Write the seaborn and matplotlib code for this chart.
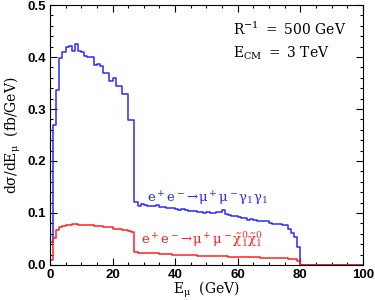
import numpy as np
import pandas as pd
import matplotlib
matplotlib.use("Agg")
import matplotlib.pyplot as plt
import seaborn as sns
from matplotlib.ticker import MultipleLocator, FormatStrFormatter

# 1 GeV bins from 0 to 100 GeV
edges = list(range(0, 101))

# e+e- -> mu+ mu- gamma1 gamma1  (fb/GeV)
blue_vals = [0.045, 0.270, 0.336, 0.398, 0.409, 0.420, 0.421, 0.412, 0.426, 0.412,
             0.409, 0.403, 0.400, 0.400, 0.384, 0.386, 0.382, 0.370, 0.370, 0.354,
             0.360, 0.345, 0.345, 0.329, 0.329, 0.279, 0.279, 0.122, 0.113, 0.117,
             0.115, 0.114, 0.113, 0.114, 0.116, 0.112, 0.111, 0.110, 0.109, 0.109,
             0.108, 0.106, 0.107, 0.105, 0.104, 0.104, 0.103, 0.102, 0.102, 0.100,
             0.101, 0.099, 0.100, 0.101, 0.102, 0.106, 0.097, 0.096, 0.095, 0.094,
             0.092, 0.090, 0.090, 0.087, 0.088, 0.087, 0.085, 0.085, 0.084, 0.085,
             0.081, 0.078, 0.078, 0.078, 0.077, 0.077, 0.070, 0.062, 0.054, 0.035]
# e+e- -> mu+ mu- chi10 chi10
red_vals = [0.010, 0.052, 0.067, 0.073, 0.075, 0.077, 0.077, 0.078, 0.078, 0.077,
            0.077, 0.077, 0.076, 0.076, 0.075, 0.075, 0.074, 0.073, 0.073, 0.072,
            0.070, 0.070, 0.069, 0.067, 0.067, 0.066, 0.064, 0.024, 0.023, 0.023,
            0.022, 0.023, 0.022, 0.022, 0.022, 0.021, 0.021, 0.021, 0.021, 0.020,
            0.020, 0.020, 0.020, 0.019, 0.019, 0.019, 0.019, 0.018, 0.018, 0.018,
            0.018, 0.018, 0.017, 0.017, 0.017, 0.017, 0.017, 0.016, 0.016, 0.016,
            0.016, 0.016, 0.015, 0.015, 0.015, 0.015, 0.015, 0.014, 0.014, 0.014,
            0.014, 0.014, 0.013, 0.013, 0.013, 0.013, 0.012, 0.012, 0.011, 0.008]
tail = [0.0] * 20  # nothing above 80 GeV

blue = blue_vals + tail
red = red_vals + tail
centers = [e + 0.5 for e in edges[:-1]]
df = pd.DataFrame({"E": centers + centers,
                   "w": blue + red,
                   "proc": ["gg"] * 100 + ["chi"] * 100})

sns.set_style("ticks", {"axes.edgecolor": "black", "xtick.color": "black",
                        "ytick.color": "black", "text.color": "black",
                        "axes.labelcolor": "black"})
plt.rcParams["mathtext.fontset"] = "dejavuserif"

fig = plt.figure(figsize=(3.75, 3.0), dpi=100)
ax = fig.add_axes([0.133, 0.117, 0.835, 0.866])

sns.histplot(data=df[df.proc == "gg"], x="E", weights="w", bins=edges,
             element="step", fill=False, color="#2a2aff", linewidth=1.1, ax=ax)
sns.histplot(data=df[df.proc == "chi"], x="E", weights="w", bins=edges,
             element="step", fill=False, color="#ff2020", linewidth=1.1, ax=ax)

ax.set_xlim(0, 100)
ax.set_ylim(0, 0.5)
ax.xaxis.set_major_locator(MultipleLocator(20))
ax.xaxis.set_minor_locator(MultipleLocator(5))
ax.yaxis.set_major_locator(MultipleLocator(0.1))
ax.yaxis.set_minor_locator(MultipleLocator(0.02))
ax.yaxis.set_major_formatter(FormatStrFormatter("%.1f"))
ax.tick_params(which="both", direction="in", top=True, right=True, width=0.8,
               colors="black")
ax.tick_params(which="major", length=5, labelsize=9.5, pad=3)
ax.tick_params(which="minor", length=2.5)
for lab in ax.get_xticklabels() + ax.get_yticklabels():
    lab.set_fontweight("bold")
    lab.set_family("Liberation Sans")
for sp in ax.spines.values():
    sp.set_linewidth(0.8)
    sp.set_color("black")

ax.set_xlabel(r"$\mathrm{E_\mu\ \ (GeV)}$", fontsize=10, labelpad=-1, color="black")
ax.set_ylabel(r"$\mathrm{d\sigma/dE_\mu\ \ (fb/GeV)}$", fontsize=10, labelpad=3,
              color="black")

ax.text(0.585, 0.905, r"$\mathrm{R^{-1}\ =\ 500\ GeV}$", transform=ax.transAxes,
        fontsize=10, va="center", color="black")
ax.text(0.585, 0.815, r"$\mathrm{E_{CM}\ =\ 3\ TeV}$", transform=ax.transAxes,
        fontsize=10, va="center", color="black")
ax.text(0.31, 0.255, r"$\mathrm{e^+e^-\!\rightarrow\!\mu^+\mu^-\gamma_1\gamma_1}$",
        transform=ax.transAxes, fontsize=9.5, color="#2a2aff", va="center")
ax.text(0.29, 0.10, r"$\mathrm{e^+e^-\!\rightarrow\!\mu^+\mu^-\tilde{\chi}^0_1\tilde{\chi}^0_1}$",
        transform=ax.transAxes, fontsize=9.5, color="#ff2020", va="center")

fig.savefig("out.png", dpi=100)
